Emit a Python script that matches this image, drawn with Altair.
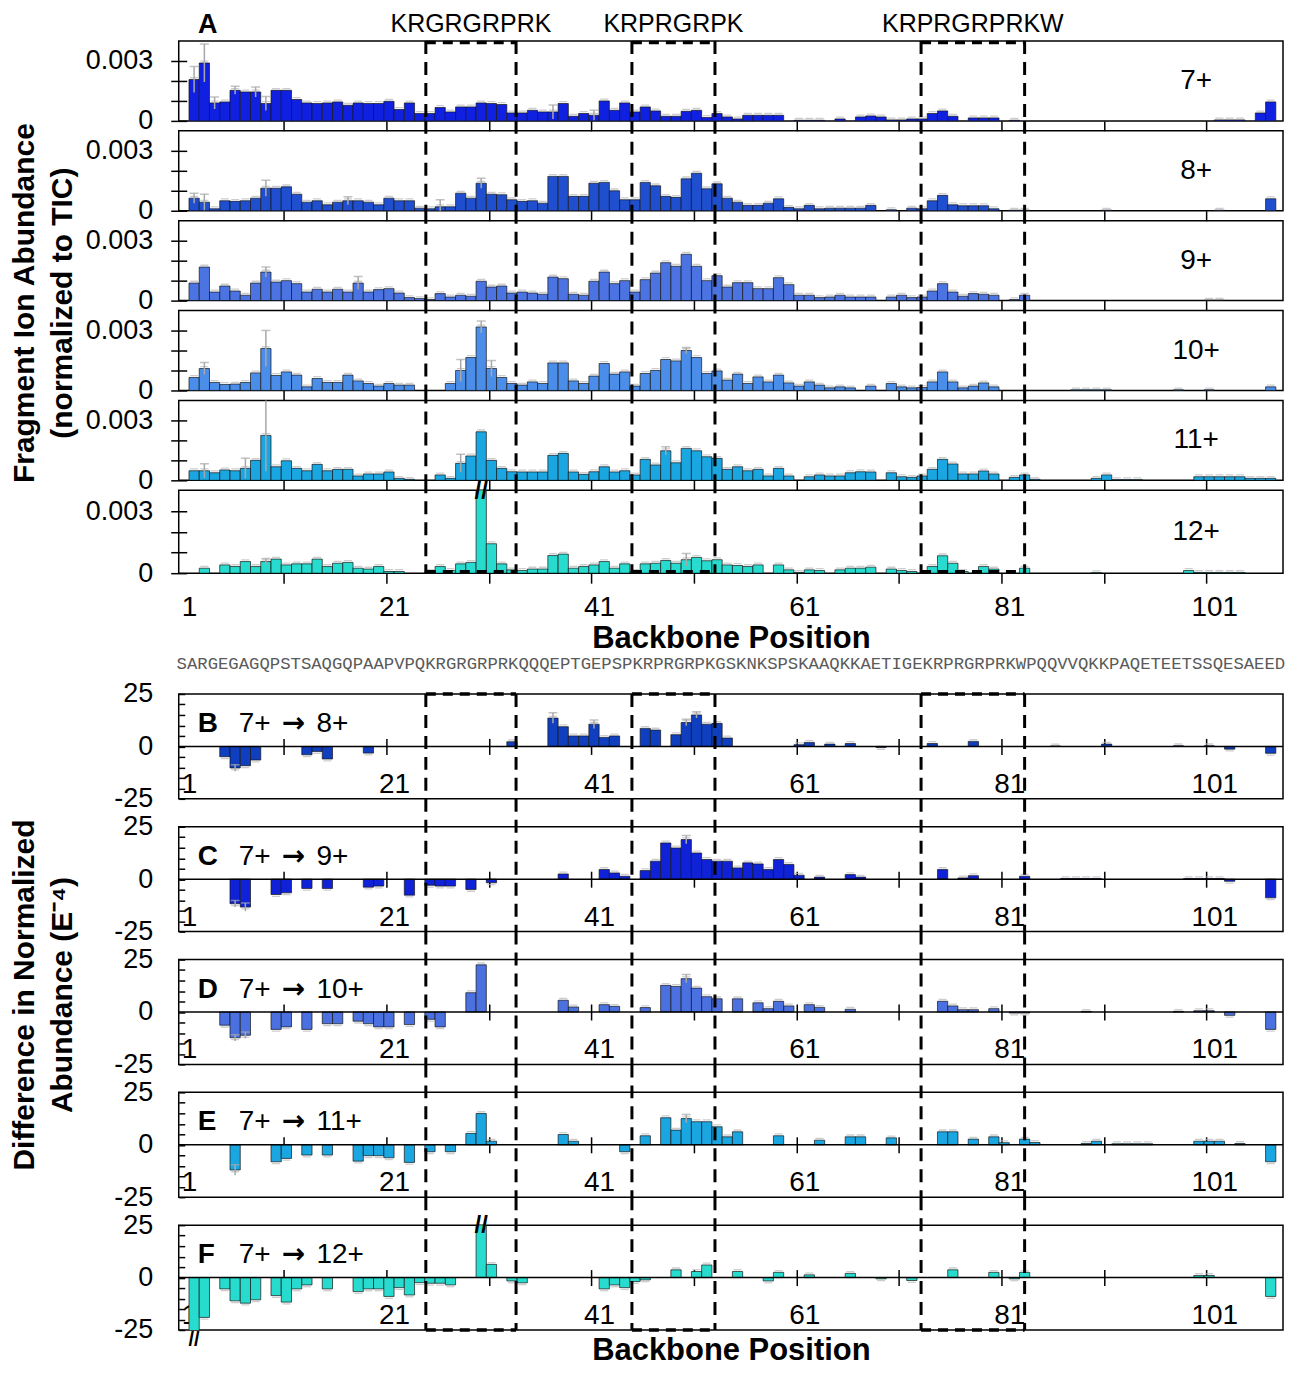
import altair as alt
import pandas as pd

FONT = "Liberation Sans"
N = 106
POS = list(range(1, N + 1))

SEQUENCE = "SARGEGAGQPSTSAQGQPAAPVPQKRGRGRPRKQQQEPTGEPSPKRPRGRPKGSKNKSPSKAAQKKAETIGEKRPRGRPRKWPQQVVQKKPAQETEETSSQESAEED"

BOX_LEFT = [23.6, 43.7, 71.9]
BOX_RIGHT = [32.4, 51.8, 82.0]
BOX_LABELS = ["KRGRGRPRK", "KRPRGRPK", "KRPRGRPRKW"]

CHARGES = ["7+", "8+", "9+", "10+", "11+", "12+"]
TOP_COLORS = ["#1020e0", "#1f4fcf", "#4b74e2", "#4a8eea", "#1aa6e0", "#27dccf"]

# fragment ion abundance, units of 1e-4 (normalized to TIC), backbone positions 1..106
A7 = [20.7, 29, 9, 9.5, 15.3, 14.5, 14.5, 8.7, 15.3, 15.3,
      10.7, 9, 8.7, 9, 9.5, 7.8, 9, 8.7, 8.7, 9.8,
      5.7, 9, 3.7, 3.7, 6.7, 4.5, 7, 7, 9, 8.7,
      8.2, 4, 4, 5.3, 4.5, 4.5, 8.7, 2.3, 3.7, 2.8,
      10, 5.3, 9, 4.5, 7, 5, 2.3, 2.3, 4.8, 5.3,
      1.7, 3.7, 2, 1, 2.8, 2.8, 2.8, 2.8, 0, 0.3,
      0.3, 0.3, 0, 1, 0, 2, 2.5, 2, 0.5, 0.5,
      1, 1, 3.7, 5, 2.3, 0, 1.5, 1.5, 1.5, 0,
      0.3, 0, 0, 0, 0, 0, 0, 0, 0, 0,
      0, 0, 0, 0, 0, 0, 0, 0, 0, 0,
      0.5, 0.5, 0.5, 0, 4, 9.5]
A8 = [6.3, 4.3, 1, 5, 4.7, 5, 6.3, 11.3, 11.3, 12,
      8.3, 4.3, 5, 3, 4.3, 5, 5, 4.3, 3, 6.3,
      5, 5, 1.3, 1, 2, 2, 8.8, 6.3, 13.8, 8.3,
      8, 5.5, 4.7, 5, 3.8, 17.2, 17.2, 7.2, 7.2, 13.8,
      14.2, 10, 5.5, 5.5, 14.2, 12.5, 7.2, 6.7, 16, 18.8,
      11, 13.5, 6.3, 4.3, 2.7, 2.7, 3.8, 6, 1.7, 1,
      2.7, 1, 1.3, 1.3, 1.3, 1.3, 2.7, 0, 0.5, 0,
      1.3, 1, 5, 7.7, 3, 2.5, 2.5, 2.5, 1, 0,
      0.3, 0.3, 0, 0, 0, 0, 0, 0, 0, 0.3,
      0, 0, 0, 0, 0, 0, 0, 0, 0, 0,
      0.3, 0, 0, 0, 0, 6]
A9 = [8.8, 16.8, 4.3, 7.3, 4.8, 2.7, 8.8, 14.3, 9.3, 10,
      8.5, 4.3, 5.7, 4.3, 5.7, 4.3, 8.8, 4.3, 5.5, 6,
      3.8, 1.5, 1, 0.5, 3.5, 1.8, 2.7, 2.2, 9.7, 6.8,
      7.3, 3.8, 4.3, 3.8, 3.2, 11.8, 11, 3.2, 2.7, 9.7,
      14.3, 8.5, 10, 4.3, 10.5, 13.8, 19, 17.2, 23.2, 17.2,
      10, 12.5, 6.8, 9, 9, 6, 6, 11.5, 8, 2.7,
      2.7, 1.5, 1.8, 2.7, 1.8, 1.8, 1.8, 0, 1.8, 2.7,
      1.5, 1.8, 4.8, 8.5, 4.3, 2.2, 3.5, 3.2, 2.7, 0,
      0.5, 2.7, 0, 0, 0, 0, 0, 0, 0, 0,
      0, 0, 0, 0, 0, 0, 0, 0, 0, 0.2,
      0.2, 0, 0, 0, 0, 0]
A10 = [6.5, 11, 4, 3, 3.2, 4, 8.8, 21, 7.5, 9.3,
       7.7, 1.8, 6, 4, 4, 7.7, 4.8, 3.5, 2.2, 3.5,
       2.7, 2.7, 0, 0, 0, 3.5, 10, 16.5, 31.8, 11,
       6.5, 3.5, 2.7, 4.3, 3.5, 13.8, 13.8, 4.8, 3.5, 7.2,
       13.5, 8.2, 9.3, 2.2, 8.5, 10, 15.5, 14.8, 20, 16.5,
       8.5, 9.8, 5.2, 8.2, 3.5, 6.8, 4.3, 7.7, 3.8, 2.2,
       4.3, 2.7, 1.3, 1.8, 1.3, 0, 2.2, 0, 3.5, 1.8,
       1.3, 1.5, 4.3, 9.3, 4.3, 1.3, 2.2, 3.8, 1.8, 0,
       0, 0, 0, 0, 0, 0, 0.3, 0.3, 0.3, 0.3,
       0, 0, 0, 0, 0, 0, 0.3, 0, 0, 0.3,
       0, 0, 0, 0, 0, 1.8]
A11 = [4.8, 4.8, 3.8, 5.2, 4.8, 6, 10, 22.5, 6.8, 9.8,
       6, 4.8, 8, 4.8, 5.5, 5.5, 2.2, 3.2, 3.2, 4.2,
       1, 0.5, 0, 0, 2.7, 1, 8.5, 12.2, 24.3, 10,
       6, 4.3, 4.2, 4.2, 4.2, 12.5, 13.5, 4.2, 3, 4.3,
       6.8, 4.2, 4.8, 2.7, 10.5, 7.7, 14.8, 8.8, 16, 14.8,
       11.8, 11, 5.5, 6.8, 4.8, 5.5, 2.2, 6, 2.2, 0,
       1.8, 2.7, 2.2, 2.2, 3.8, 4.3, 4.2, 0, 3.8, 1.8,
       1.5, 2.2, 5.5, 10.5, 8.2, 3.2, 3.2, 4.7, 3.2, 0,
       1.5, 2.7, 0.5, 0, 0, 0, 0, 0, 1, 2.7,
       0.3, 0.3, 0.3, 0, 0, 0, 0, 0, 1.8, 1.8,
       1.8, 1.8, 1.8, 1, 1, 1]
A12 = [0, 2.4, 0, 4, 3.2, 5.6, 3.2, 5.6, 6.8, 4,
       4.5, 4.5, 6.8, 3.2, 4.8, 5.2, 2.4, 2, 3.2, 0.8,
       0.8, 0, 0, 0.8, 3.2, 1.3, 4.5, 5.2, 55, 14.2,
       4.5, 1.6, 1.3, 2, 2, 8.5, 9.2, 2.4, 3.2, 4,
       5.6, 2.4, 4.5, 0.8, 4.5, 4.8, 6.1, 4.8, 6.5, 7.6,
       6, 6.5, 4, 3.7, 3.2, 4, 0, 4, 1.6, 0.3,
       1.6, 1.3, 0, 1.6, 2.4, 2.4, 2.9, 0, 2, 1.3,
       0.8, 0, 3.2, 8.4, 4.8, 0.8, 0, 3.2, 2, 0,
       0, 2.4, 0, 0, 0, 0, 0, 0, 0.2, 0,
       0, 0, 0, 0, 0, 0, 0, 1.3, 0.3, 0.3,
       0.3, 0.3, 0.3, 0, 0, 0]
TOP_VALUES = [A7, A8, A9, A10, A11, A12]

TOP_ERRORS = [
    {1: 6.5, 2: 9.5, 3: 3, 5: 2, 7: 2.5, 8: 3.5, 36: 3.5, 40: 2.5},
    {1: 2.5, 2: 4, 8: 4, 16: 2, 25: 3.5, 29: 2.5},
    {8: 2.5, 17: 3.3},
    {2: 3, 8: 9, 27: 5.5, 29: 3, 30: 4, 49: 1.5},
    {2: 3.5, 6: 5, 8: 18, 27: 4.5, 47: 2},
    {8: 1.5, 49: 3},
]

# differences in normalized abundance (E-4), sparse by backbone position
DIFF_LABELS = ["B", "C", "D", "E", "F"]
DIFF_FROM = ["7+"] * 5
DIFF_TO = ["8+", "9+", "10+", "11+", "12+"]
DIFF_COLORS = ["#0f3fbf", "#0f22d8", "#4b70e0", "#1aa6e0", "#27dccf"]
DIFF_B = {4: -4.9, 5: -10.3, 6: -9.2, 7: -6.5, 12: -4, 13: -2.4, 14: -6, 18: -3.2, 32: 2.2,
          36: 13.5, 37: 9.4, 38: 5, 39: 5, 40: 10.6, 41: 4.3, 42: 5, 45: 8.6, 46: 7.8, 48: 5.6,
          49: 11.4, 50: 15, 51: 10.6, 52: 11, 53: 4, 60: 0.8, 61: 1.9, 63: 1.1, 65: 1.4, 68: -0.5,
          73: 1.4, 77: 2.4, 85: 0.2, 90: 1.1, 97: 0.3, 100: 0.3, 102: -1.3, 106: -3.3}
DIFF_C = {5: -11.7, 6: -13.3, 9: -7.3, 10: -6.5, 12: -4.4, 14: -4.4, 18: -3.8, 19: -3.3, 22: -7.6,
          24: -2.9, 25: -3.3, 26: -3.3, 28: -4.9, 30: -1.7, 37: 2.5, 41: 4.6, 42: 3, 43: 1.4, 45: 4.1,
          46: 8.6, 47: 17.3, 48: 14.9, 49: 18.9, 50: 12.5, 51: 9.4, 52: 8.6, 53: 8.6, 54: 5.4, 55: 7.8,
          56: 7.3, 57: 4.6, 58: 9.4, 59: 7, 60: 1.9, 62: 1, 65: 2.2, 66: 1, 74: 4.6, 76: 0.6, 77: 1.7,
          82: 1.4, 86: 0.3, 87: 0.3, 88: 0.3, 89: 0.3, 98: 0.3, 99: 0.3, 100: 0.3, 101: 0.3, 102: -1,
          106: -8.9}
DIFF_D = {4: -6.3, 5: -12.3, 6: -11.1, 9: -8.3, 10: -7.1, 12: -8.3, 14: -5.6, 15: -5.6, 17: -4.4,
          18: -5.6, 19: -7.1, 20: -7.1, 22: -6, 24: -3.5, 25: -7.1, 28: 9.2, 29: 22.5, 37: 5.6, 38: 2.4,
          41: 3.5, 42: 2.7, 45: 2.1, 47: 12.7, 48: 12.2, 49: 15.9, 50: 11.4, 51: 7.3, 52: 6.3, 54: 6.3,
          56: 4.4, 57: 1.6, 58: 5.1, 59: 2.9, 61: 3.5, 62: 2.2, 65: 1.3, 74: 5.1, 75: 2.9, 76: 1.1,
          77: 1.1, 79: 1.6, 81: -0.5, 82: -0.5, 88: 0.3, 97: 0.3, 99: 0.6, 100: 0.6, 102: -1.6, 106: -8.3}
DIFF_E = {5: -12, 9: -8.1, 10: -6.5, 12: -4.9, 14: -4.9, 17: -7.8, 18: -5.2, 19: -5.2, 20: -6.2,
          22: -8.4, 24: -3.3, 26: -3.3, 28: 5.4, 29: 14.9, 30: 1.7, 37: 4.9, 38: 1.7, 43: -3.3, 45: 4.3,
          47: 12.9, 48: 7, 49: 12.5, 50: 11, 51: 11, 52: 8.6, 53: 3.8, 54: 6.2, 58: 4.3, 62: 2.2,
          65: 3.8, 66: 3.8, 69: 3.3, 74: 6.2, 75: 6.2, 77: 2.7, 79: 3.8, 80: 1, 82: 2.7, 83: 1.1,
          88: 0.6, 89: 1.7, 91: 0.5, 92: 0.5, 93: 0.5, 94: 0.5, 99: 1.7, 100: 1.7, 101: 1.7, 103: 0.6,
          106: -8.1}
DIFF_F = {1: -32, 2: -19, 4: -5.4, 5: -11.1, 6: -12.2, 7: -10.6, 9: -8.6, 10: -11.7, 11: -5.4,
          12: -3.5, 14: -5.4, 17: -6.7, 18: -5.4, 19: -5.4, 20: -9, 21: -4.8, 22: -8.3, 23: -2.4,
          24: -2.7, 25: -2.7, 26: -3.5, 29: 36, 30: 6.3, 32: -1.6, 33: -2.5, 41: -5.4, 42: -3.5,
          43: -4.8, 44: -1.9, 45: -1.1, 48: 3.7, 50: 2.9, 51: 6, 54: 2.9, 57: -1.6, 58: 2.5, 61: 1.3,
          65: 2, 68: -0.6, 71: -1.4, 75: 3.7, 79: 2.5, 81: -0.6, 82: 2.5, 99: 1, 100: 1, 106: -9}
DIFF_VALUES = [DIFF_B, DIFF_C, DIFF_D, DIFF_E, DIFF_F]
DIFF_ERRORS = [{5: 1.5, 36: 2.5, 40: 2, 49: 1.5, 50: 1.5}, {5: 1.5, 6: 2, 49: 2},
               {5: 1.5, 6: 1.5, 49: 2}, {5: 2.5, 49: 2}, {}]

# broken (off-scale) bars
BREAKS_12 = [29]
BREAKS_F_TOP = [29]
BREAKS_F_BOTTOM = [1]

# ------------------------------------------------------------------ layout
W = 1106
TOP_H = [80, 80, 80, 80, 80, 83]
BOT_H = 105
TOP_GAP = 10
MID_GAP = 121
BOT_GAP = 28
XS = alt.Scale(domain=[-0.5, 107.2], nice=False, zero=False)
TICK_VALUES = [9.75 + 10 * k for k in range(10)]
LABEL_VALUES = [0.5 + 20 * k for k in range(6)]
AXIS_VALUES = sorted(TICK_VALUES + LABEL_VALUES)
LABEL_EXPR = "(datum.value - 0.5) % 20 == 0 ? format(datum.value + 0.5, 'd') : ''"
TICK_OP = {"condition": {"test": "(datum.value - 0.5) % 20 == 0", "value": 0}, "value": 1}

DASH_V = [13, 8]
DASH_H = [10, 7]
X_LABEL_SIZE = 28
Y_LABEL_SIZE = 27


def x_axis(labels, bottom_panel=False, title=None, title_y=None):
    kw = dict(values=AXIS_VALUES, tickOpacity=TICK_OP, tickWidth=1.5, tickColor="black",
              domain=False, grid=False, labelOverlap=False, labelFlush=False, labels=labels,
              labelFontSize=X_LABEL_SIZE)
    if labels:
        kw["labelExpr"] = LABEL_EXPR
    if bottom_panel:
        kw.update(offset=-(BOT_H / 2) - 8, tickSize=16, labelPadding=16)
    else:
        kw.update(tickSize=10, labelPadding=10)
    if title:
        kw.update(title=title, titleY=title_y, titleFontSize=31, titleFontWeight="bold")
    else:
        kw["title"] = None
    return alt.Axis(**kw)


def y_axis_top(title=None, title_y=0):
    kw = dict(values=[0, 10, 20, 30],
              labelExpr="datum.value == 0 ? '0' : (datum.value == 30 ? '0.003' : '')",
              offset=-8, tickSize=16, tickWidth=1.5, labelPadding=18, domain=False, grid=False,
              labelFontSize=Y_LABEL_SIZE)
    if title:
        kw.update(title=title, titleX=-147, titleY=title_y, titleLineHeight=38, titleAngle=270,
                  titleBaseline="bottom", titleAlign="center", titleFontSize=30,
                  titleFontWeight="bold")
    else:
        kw["title"] = None
    return alt.Axis(**kw)


def y_axis_bottom(title=None, title_y=0):
    kw = dict(values=list(range(-25, 26, 5)),
              labelExpr="datum.value % 25 == 0 ? '' + datum.value : ''",
              offset=-6, tickSize=6, tickWidth=1.5, labelPadding=26, domain=False, grid=False,
              labelFontSize=Y_LABEL_SIZE)
    if title:
        kw.update(title=title, titleX=-145, titleY=title_y, titleLineHeight=38, titleAngle=270,
                  titleBaseline="bottom", titleAlign="center", titleFontSize=30,
                  titleFontWeight="bold")
    else:
        kw["title"] = None
    return alt.Axis(**kw)


def bar_layers(vals, errs, color, ys, xaxis, yaxis):
    df = pd.DataFrame({"pos": POS, "val": vals, "err": [errs.get(p, 0.0) for p in POS]})
    base = alt.Chart(df)
    X = lambda f: alt.X(f, scale=XS, axis=xaxis)
    Y = lambda f: alt.Y(f, scale=ys, axis=yaxis)
    bars = (base.transform_filter("datum.val != 0")
            .transform_calculate(x0="datum.pos - 0.5", x1="datum.pos + 0.5")
            .mark_bar(color=color, stroke="#151515", strokeWidth=0.7, clip=True)
            .encode(x=X("x0:Q"), x2="x1:Q", y=Y("val:Q"), y2=alt.datum(0)))
    cap_pos = (base.transform_filter("datum.val > 0")
               .mark_tick(color="#b8b8b8", thickness=1.3, size=8, orient="horizontal",
                          yOffset=-1.8, clip=True)
               .encode(x=X("pos:Q"), y=Y("val:Q")))
    cap_neg = (base.transform_filter("datum.val < 0")
               .mark_tick(color="#b8b8b8", thickness=1.3, size=8, orient="horizontal",
                          yOffset=1.8, clip=True)
               .encode(x=X("pos:Q"), y=Y("val:Q")))
    eb = base.transform_filter("datum.err > 0").transform_calculate(
        lo="datum.val - datum.err", hi="datum.val + datum.err")
    erule = eb.mark_rule(color="#a8a8a8", strokeWidth=1.5, clip=True).encode(
        x=X("pos:Q"), y=Y("lo:Q"), y2="hi:Q")
    ecap = eb.mark_tick(color="#a8a8a8", thickness=1.5, size=9, orient="horizontal",
                        clip=True).encode(x=X("pos:Q"), y=Y("hi:Q"))
    return [bars, cap_pos, cap_neg, erule, ecap], X


def box_layers(X, y_top, y_bottom, top_dash=None, bottom_dash=None):
    edges = pd.DataFrame({"edge": BOX_LEFT + BOX_RIGHT})
    layers = [alt.Chart(edges).mark_rule(color="black", strokeWidth=3, strokeDash=DASH_V)
              .encode(x=X("edge:Q"), y=alt.value(y_top), y2=alt.value(y_bottom))]
    boxes = pd.DataFrame({"left": BOX_LEFT, "right": BOX_RIGHT, "name": BOX_LABELS})
    for yv in [top_dash, bottom_dash]:
        if yv is not None:
            layers.append(alt.Chart(boxes).mark_rule(color="black", strokeWidth=3.5,
                                                     strokeDash=DASH_H)
                          .encode(x=X("left:Q"), x2="right:Q", y=alt.value(yv)))
    return layers, boxes


def text_layer(txt, x, y, size, bold=False, align="center", font=FONT, color="black"):
    return alt.Chart(pd.DataFrame({"t": [txt]})).mark_text(
        fontSize=size, fontWeight="bold" if bold else "normal", align=align,
        baseline="middle", font=font, color=color).encode(
        text="t:N", x=alt.value(x), y=alt.value(y))


def break_layer(X, positions, y, size=24):
    return alt.Chart(pd.DataFrame({"pos": positions})).mark_text(
        text="//", fontSize=size, fontWeight="bold", baseline="middle", align="center",
        font=FONT).encode(x=X("pos:Q"), y=alt.value(y))


def spacer(h):
    return (alt.Chart(pd.DataFrame({"a": [0]})).mark_point(opacity=0)
            .encode(x=alt.value(0), y=alt.value(0))
            .properties(width=W, height=h, view=alt.ViewBackground(stroke="transparent")))


# ------------------------------------------------------------------ top panels
top_panels = []
for i, (charge, vals, color, errs) in enumerate(zip(CHARGES, TOP_VALUES, TOP_COLORS, TOP_ERRORS)):
    h = TOP_H[i]
    last = i == len(CHARGES) - 1
    ys = alt.Scale(domain=[0, 40], nice=False, zero=False)
    xaxis = x_axis(labels=last, title="Backbone Position" if last else None, title_y=50)
    yaxis = y_axis_top(title=["Fragment Ion Abundance", "(normalized to TIC)"] if i == 2 else None,
                       title_y=82)
    layers, X = bar_layers(vals, errs, color, ys, xaxis, yaxis)
    blayers, boxes = box_layers(X, 0 if i == 0 else -TOP_GAP, h,
                                top_dash=1.5 if i == 0 else None,
                                bottom_dash=h - 1.5 if last else None)
    layers += blayers
    layers.append(text_layer(charge, 1019, h / 2, 28))
    if i == 0:
        layers.append(alt.Chart(boxes).transform_calculate(mid="(datum.left + datum.right) / 2")
                      .mark_text(fontSize=25, font=FONT, baseline="middle", align="center")
                      .encode(x=X("mid:Q"), y=alt.value(-17), text="name:N"))
        layers.append(text_layer("A", 29, -16.5, 27, bold=True))
    if last:
        layers.append(break_layer(X, BREAKS_12, 2))
    top_panels.append(alt.layer(*layers).properties(width=W, height=h))

# ------------------------------------------------------------------ bottom panels
bottom_panels = []
for i, (lab, frm, to, vals, color, errs) in enumerate(zip(DIFF_LABELS, DIFF_FROM, DIFF_TO,
                                                         DIFF_VALUES, DIFF_COLORS, DIFF_ERRORS)):
    last = i == len(DIFF_LABELS) - 1
    ys = alt.Scale(domain=[-25, 25], nice=False, zero=False)
    xaxis = x_axis(labels=True, bottom_panel=True,
                   title="Backbone Position" if last else None, title_y=66)
    yaxis = y_axis_bottom(title=["Difference in Normalized", "Abundance (E\u207b\u2074)"]
                          if i == 2 else None, title_y=35)
    full = [vals.get(p, 0.0) for p in POS]
    layers, X = bar_layers(full, errs, color, ys, xaxis, yaxis)
    layers.append(alt.Chart(pd.DataFrame({"z": [0]})).mark_rule(color="black", strokeWidth=1.5)
                  .encode(y=alt.Y("z:Q", scale=ys, axis=yaxis)))
    blayers, _ = box_layers(X, 0 if i == 0 else -BOT_GAP, BOT_H,
                            top_dash=0 if i == 0 else None,
                            bottom_dash=BOT_H if last else None)
    layers += blayers
    layers.append(text_layer(lab, 19, 30, 28, bold=True, align="left"))
    layers.append(text_layer(frm, 60, 30, 28, align="left"))
    layers.append(text_layer("\u2192", 115, 30, 28, bold=True, font="DejaVu Sans"))
    layers.append(text_layer(to, 138, 30, 28, align="left"))
    if i == 0:
        layers.append(text_layer(SEQUENCE, W / 2, -30, 17.3, font="Liberation Mono",
                                 color="#5a5a5a"))
    if last:
        layers.append(break_layer(X, BREAKS_F_TOP, 1))
        layers.append(break_layer(X, BREAKS_F_BOTTOM, BOT_H + 10, size=20))
    bottom_panels.append(alt.layer(*layers).properties(width=W, height=BOT_H))

rows = []
for i, p in enumerate(top_panels):
    if i > 0:
        rows.append(spacer(TOP_GAP))
    rows.append(p)
rows.append(spacer(MID_GAP))
for i, p in enumerate(bottom_panels):
    if i > 0:
        rows.append(spacer(BOT_GAP))
    rows.append(p)

chart = (alt.vconcat(*rows, spacing=0, bounds="flush")
         .properties(padding={"left": 1, "top": 0, "right": 0, "bottom": 0})
         .configure_view(stroke="black", strokeWidth=1.5)
         .configure_axis(labelFont=FONT, titleFont=FONT, labelColor="black", titleColor="black",
                         tickColor="black")
         .configure_text(font=FONT))

chart.save("out.html", embed_options={"renderer": "svg", "actions": False})
